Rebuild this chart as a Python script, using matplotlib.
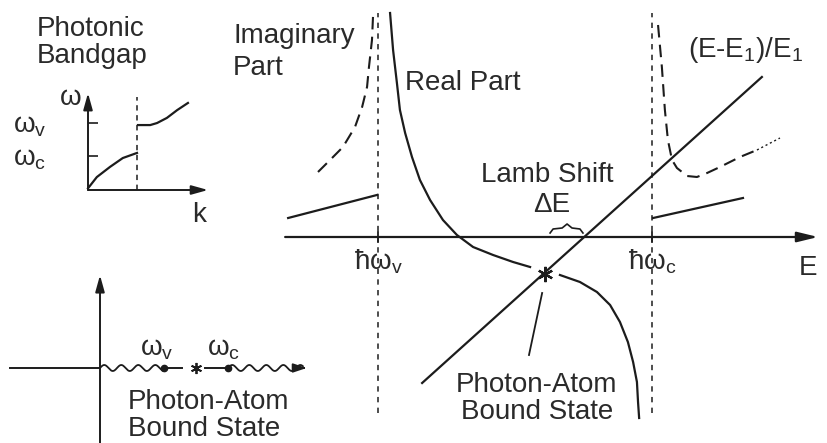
import numpy as np
import matplotlib
matplotlib.use("Agg")
import matplotlib.pyplot as plt

plt.rcParams["font.family"] = ["Liberation Sans", "DejaVu Sans"]
plt.rcParams["mathtext.fontset"] = "custom"
plt.rcParams["mathtext.rm"] = "Liberation Sans"
plt.rcParams["mathtext.it"] = "Liberation Sans"
plt.rcParams["mathtext.bf"] = "Liberation Sans"

INK = "#1c1c1c"
TXT = "#2a2a2a"
FS = 20

# ---- main panel: energy E (band edges at 1 and 2) vs. value ----
BAND_EDGES = [1.0, 2.0]
BAND_LABELS = [r"$\hbar\omega_{\rm v}$", r"$\hbar\omega_{\rm c}$"]
EDGE_SPAN = [-1.76, 2.24]
AXIS_SPAN = [0.661, 2.606]

real_left_e = [1.044, 1.055, 1.069, 1.080, 1.099, 1.124, 1.153, 1.190, 1.237,
               1.288, 1.347, 1.420, 1.493, 1.555]
real_left_v = [2.24, 1.87, 1.54, 1.27, 1.04, 0.80, 0.57, 0.37, 0.17,
               0.02, -0.10, -0.18, -0.25, -0.30]
real_right_e = [1.664, 1.737, 1.799, 1.847, 1.883, 1.912, 1.931, 1.945, 1.949, 1.953]
real_right_v = [-0.38, -0.45, -0.55, -0.68, -0.85, -1.05, -1.25, -1.45, -1.65, -1.81]

imag_left_dash_e = [0.781, 0.825, 0.872, 0.916, 0.942, 0.960, 0.967, 0.978, 0.982]
imag_left_dash_v = [0.65, 0.77, 0.90, 1.10, 1.30, 1.50, 1.70, 1.97, 2.22]
imag_left_solid_e = [0.672, 0.996]
imag_left_solid_v = [0.19, 0.42]
imag_right_dash_e = [2.022, 2.036, 2.047, 2.058, 2.073, 2.091, 2.128, 2.164, 2.201, 2.248, 2.321, 2.383]
imag_right_dash_v = [2.12, 1.70, 1.27, 0.97, 0.77, 0.69, 0.61, 0.60, 0.64, 0.70, 0.80, 0.87]
imag_right_dot_e = [2.383, 2.467]
imag_right_dot_v = [0.87, 0.99]
imag_right_solid_e = [2.004, 2.332]
imag_right_solid_v = [0.19, 0.39]

atom_line_e = [1.161, 2.401]
atom_line_v = [-1.46, 1.60]
bound_e, bound_v = 1.609, -0.37
pointer_e = [1.599, 1.551]
pointer_v = [-0.56, -1.18]
brace_e = [1.628, 1.639, 1.672, 1.690, 1.708, 1.737, 1.748]
brace_v = [0.04, 0.08, 0.09, 0.13, 0.09, 0.08, 0.04]

# ---- inset: photonic band structure omega(k) ----
gap_k = 1.0
lower_k = [0.0, 0.18, 0.45, 0.71, 1.0]
lower_w = [0.05, 0.38, 0.68, 0.94, 1.09]
upper_k = [1.02, 1.27, 1.41, 1.61, 1.82, 2.04]
upper_w = [1.91, 1.91, 1.97, 2.12, 2.35, 2.56]
inset_ticks = [1.0, 1.97]
inset_ticklabels = [r"$\omega_{\rm c}$", r"$\omega_{\rm v}$"]

# ---- lower-left: complex frequency plane ----
w_v, w_c = 1.0, 2.0
w_star = 1.5
wave_ends = [(0.0, w_v), (w_c, 3.17)]
plane_x = [-1.41, 3.23]
plane_y = [-1.17, 1.45]


def wavy(ax, x0, x1, wavelength=0.266, amp=0.047):
    x = np.linspace(x0, x1, 300)
    ax.plot(x, amp * np.sin(2 * np.pi * (x - x0) / wavelength), color=INK, lw=1.3, clip_on=False)


fig = plt.figure(figsize=(8.28, 4.43), dpi=100)

# Main panel
ax = fig.add_axes([0, 0, 1, 1])
ax.set_xlim(-0.3796, 2.6423)
ax.set_ylim(-2.06, 2.37)
ax.axis("off")

ax.annotate("", xy=(AXIS_SPAN[1], 0), xytext=(AXIS_SPAN[0], 0),
            arrowprops=dict(arrowstyle="-|>,head_length=0.9,head_width=0.22",
                            color=INK, lw=1.6, mutation_scale=14, shrinkA=0, shrinkB=0))
for e, lab in zip(BAND_EDGES, BAND_LABELS):
    ax.plot([e, e], EDGE_SPAN, color=INK, lw=1.1, dashes=(3.5, 3.5))
    ax.plot([e, e], [-0.05, 0.05], color=INK, lw=1.3)
    ax.text(e, -0.33, lab, ha="center", va="baseline", fontsize=FS, color=TXT)
ax.text(2.568, -0.38, "E", ha="center", va="baseline", fontsize=FS, color=TXT)

ax.plot(real_left_e, real_left_v, color=INK, lw=1.6, solid_joinstyle="round")
ax.plot(real_right_e, real_right_v, color=INK, lw=1.6, solid_joinstyle="round")
ax.plot(imag_left_dash_e, imag_left_dash_v, color=INK, lw=1.5, dashes=(6, 3.5))
ax.plot(imag_left_solid_e, imag_left_solid_v, color=INK, lw=1.6)
ax.plot(imag_right_dash_e, imag_right_dash_v, color=INK, lw=1.5, dashes=(6, 3.5))
ax.plot(imag_right_dot_e, imag_right_dot_v, color=INK, lw=1.0, dashes=(1.5, 2))
ax.plot(imag_right_solid_e, imag_right_solid_v, color=INK, lw=1.6)
ax.plot(atom_line_e, atom_line_v, color=INK, lw=1.6)
ax.plot([bound_e], [bound_v], marker=(6, 2, 0), ms=11, mew=1.6, color=INK)
ax.plot(pointer_e, pointer_v, color=INK, lw=1.3)
ax.plot(brace_e, brace_v, color=INK, lw=1.2)

ax.text(0.471, 2.14, "Imaginary\nPart", ha="left", va="top", fontsize=FS,
        color=TXT, linespacing=1.3)
ax.text(1.099, 1.47, "Real Part", ha="left", va="baseline", fontsize=FS, color=TXT)
ax.text(2.131, 1.80, r"(E-E$_1$)/E$_1$", ha="left", va="baseline", fontsize=FS, color=TXT)
ax.text(1.617, 0.55, "Lamb Shift", ha="center", va="baseline", fontsize=FS, color=TXT)
ax.text(1.635, 0.25, "ΔE", ha="center", va="baseline", fontsize=FS, color=TXT)
ax.text(1.580, -1.35, "Photon-Atom\nBound State", ha="center", va="top",
        fontsize=FS, color=TXT, linespacing=1.05)

# Inset band structure
ins = fig.add_axes([88 / 828, 1 - 190 / 443, 124 / 828, 102 / 443])
ins.set_xlim(0, 2.531)
ins.set_ylim(0, 3.0)
ins.patch.set_alpha(0)
for s in ins.spines.values():
    s.set_visible(False)
ins.set_xticks([])
ins.set_yticks(inset_ticks)
ins.set_yticklabels(inset_ticklabels, fontsize=FS, color=TXT)
ins.tick_params(axis="y", direction="in", length=7, width=1.2, color=INK, pad=30)
ins.annotate("", xy=(0, 2.85), xytext=(0, 0),
             arrowprops=dict(arrowstyle="-|>,head_length=0.9,head_width=0.25",
                             color=INK, lw=1.4, mutation_scale=11, shrinkA=0, shrinkB=0))
ins.annotate("", xy=(2.45, 0), xytext=(0, 0),
             arrowprops=dict(arrowstyle="-|>,head_length=0.9,head_width=0.25",
                             color=INK, lw=1.4, mutation_scale=11, shrinkA=0, shrinkB=0))
ins.plot([gap_k, gap_k], [0, 2.74], color=INK, lw=1.1, dashes=(3.5, 3))
ins.plot(lower_k, lower_w, color=INK, lw=1.6, clip_on=False)
ins.plot(upper_k, upper_w, color=INK, lw=1.6, clip_on=False)
ins.text(-0.35, 2.71, "ω", ha="center", va="center", fontsize=FS, color=TXT)
ins.text(2.27, -0.74, "k", ha="center", va="center", fontsize=FS, color=TXT)
fig.text(37 / 828, 1 - 16 / 443, "Photonic\nBandgap", ha="left", va="top",
         fontsize=FS, color=TXT, linespacing=1.05)

# Lower-left complex plane
cp = fig.add_axes([0, 0, 320 / 828, 183 / 443])
cp.set_xlim(-1.5625, 3.4375)
cp.set_ylim(-1.172, 1.6875)
cp.axis("off")
cp.plot([plane_x[0], 0], [0, 0], color=INK, lw=1.4)
cp.annotate("", xy=(0, plane_y[1]), xytext=(0, plane_y[0]),
            arrowprops=dict(arrowstyle="-|>,head_length=0.9,head_width=0.25",
                            color=INK, lw=1.4, mutation_scale=11, shrinkA=0, shrinkB=0))
for a, b in wave_ends:
    wavy(cp, a, b)
cp.annotate("", xy=(plane_x[1], 0), xytext=(wave_ends[1][1] - 0.02, 0),
            arrowprops=dict(arrowstyle="-|>,head_length=0.9,head_width=0.3",
                            color=INK, lw=1.3, mutation_scale=9, shrinkA=0, shrinkB=0))
cp.plot([w_v, 1.28], [0, 0], color=INK, lw=1.4)
cp.plot([1.64, w_c], [0, 0], color=INK, lw=1.4)
cp.plot([w_v, w_c], [0, 0], "o", ms=4.5, color=INK)
cp.plot([w_star], [0], marker=(6, 2, 0), ms=8, mew=1.3, color=INK)
cp.text(0.625, 0.20, r"$\omega_{\rm v}$", ha="left", va="baseline", fontsize=FS, color=TXT)
cp.text(1.67, 0.20, r"$\omega_{\rm c}$", ha="left", va="baseline", fontsize=FS, color=TXT)
cp.text(0.4375, -0.33, "Photon-Atom\nBound State", ha="left", va="top",
        fontsize=FS, color=TXT, linespacing=1.05)

fig.savefig("out.png", dpi=100, facecolor="white")
